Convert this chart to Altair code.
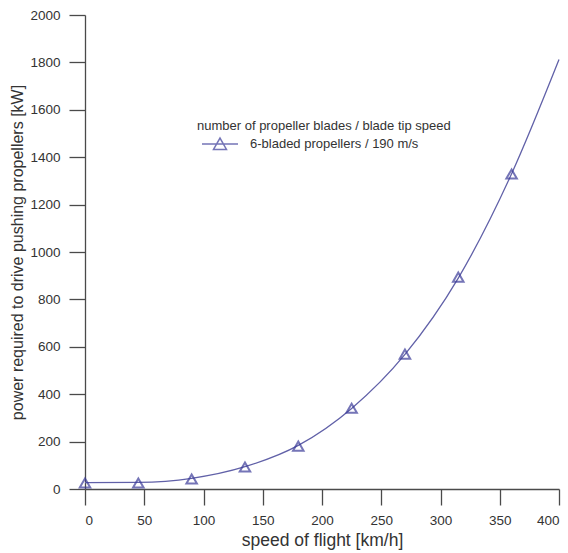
import altair as alt
import pandas as pd

# Measured operating points (flight speed in km/h, required power in kW)
speed_points = [0, 45, 90, 135, 180, 225, 270, 315, 360]
power_points = [25, 25, 42, 93, 181, 341, 569, 894, 1329]

# Smoothed power curve running across the whole speed range
curve_speed = [0, 45, 90, 135, 180, 225, 270, 315, 360, 400]
curve_power = [27, 28, 45, 94, 184, 340, 568, 890, 1330, 1812]

series_name = "6-bladed propellers / 190 m/s"

points_df = pd.DataFrame({"speed": speed_points, "power": power_points,
                          "series": [series_name] * len(speed_points)})
curve_df = pd.DataFrame({"speed": curve_speed, "power": curve_power})

LINE_COLOR = "#6161a8"
MARK_COLOR = "#3b3b99"
AXIS_COLOR = "#4a4a4a"
TEXT_COLOR = "#333333"
FONT = "Liberation Sans"

x_scale = alt.Scale(domain=[0, 400], nice=False)
y_scale = alt.Scale(domain=[0, 2000], nice=False)

# Major ticks carry labels, minor ticks in between are shorter
x_axis = alt.Axis(
    title="speed of flight [km/h]",
    values=list(range(0, 401, 25)),
    labelExpr="datum.value % 50 === 0 ? datum.label : ''",
    tickSize={"condition": {"test": "datum.value % 50 === 0", "value": 16}, "value": 7},
    labelPadding=8,
    titlePadding=5,
    titleFontSize=17.5,
    grid=False,
)
y_axis = alt.Axis(
    title="power required to drive pushing propellers [kW]",
    values=list(range(0, 2001, 100)),
    labelExpr="datum.value % 200 === 0 ? datum.label : ''",
    tickSize={"condition": {"test": "datum.value % 200 === 0", "value": 16}, "value": 8},
    labelPadding=9,
    titlePadding=4,
    titleFontSize=16,
    grid=False,
    format="d",
)

curve = alt.Chart(curve_df).mark_line(
    interpolate="monotone", color=LINE_COLOR, strokeWidth=1.3
).encode(
    x=alt.X("speed:Q", scale=x_scale, axis=x_axis),
    y=alt.Y("power:Q", scale=y_scale, axis=y_axis),
)

# Legend glyph: a short line segment with an open triangle on it
legend_symbol = "M-1,0L1,0M-0.36,0.3L0,-0.33L0.36,0.3Z"

points = alt.Chart(points_df).mark_point(
    shape="triangle-up", filled=False, size=110, strokeWidth=2
).encode(
    x=alt.X("speed:Q", scale=x_scale),
    y=alt.Y("power:Q", scale=y_scale),
    color=alt.Color(
        "series:N",
        scale=alt.Scale(domain=[series_name], range=[MARK_COLOR]),
        legend=alt.Legend(
            title="number of propeller blades / blade tip speed",
            orient="none",
            legendX=112,
            legendY=105,
            symbolType=legend_symbol,
            symbolSize=1296,
            symbolStrokeWidth=1.5,
            symbolFillColor="transparent",
            symbolOffset=4,
            labelOffset=11,
            titlePadding=-8,
            padding=0,
        ),
    ),
)

chart = alt.layer(curve, points).properties(
    width=474,
    height=474,
    padding={"left": 85, "top": 15, "right": 9, "bottom": 64},
    autosize=alt.AutoSizeParams(type="none"),
    background="white",
).configure_view(
    stroke=None
).configure_axis(
    domainColor=AXIS_COLOR,
    tickColor=AXIS_COLOR,
    domainWidth=1.3,
    tickWidth=1.3,
    labelColor=TEXT_COLOR,
    titleColor=TEXT_COLOR,
    labelFont=FONT,
    titleFont=FONT,
    labelFontSize=13.5,
    titleFontWeight="normal",
).configure_legend(
    labelFont=FONT,
    titleFont=FONT,
    labelFontSize=13,
    titleFontSize=13,
    titleFontWeight="normal",
    labelColor=TEXT_COLOR,
    titleColor=TEXT_COLOR,
    titleLimit=400,
    labelLimit=400,
)

chart.save("out.html", embed_options={"renderer": "svg", "actions": False})
